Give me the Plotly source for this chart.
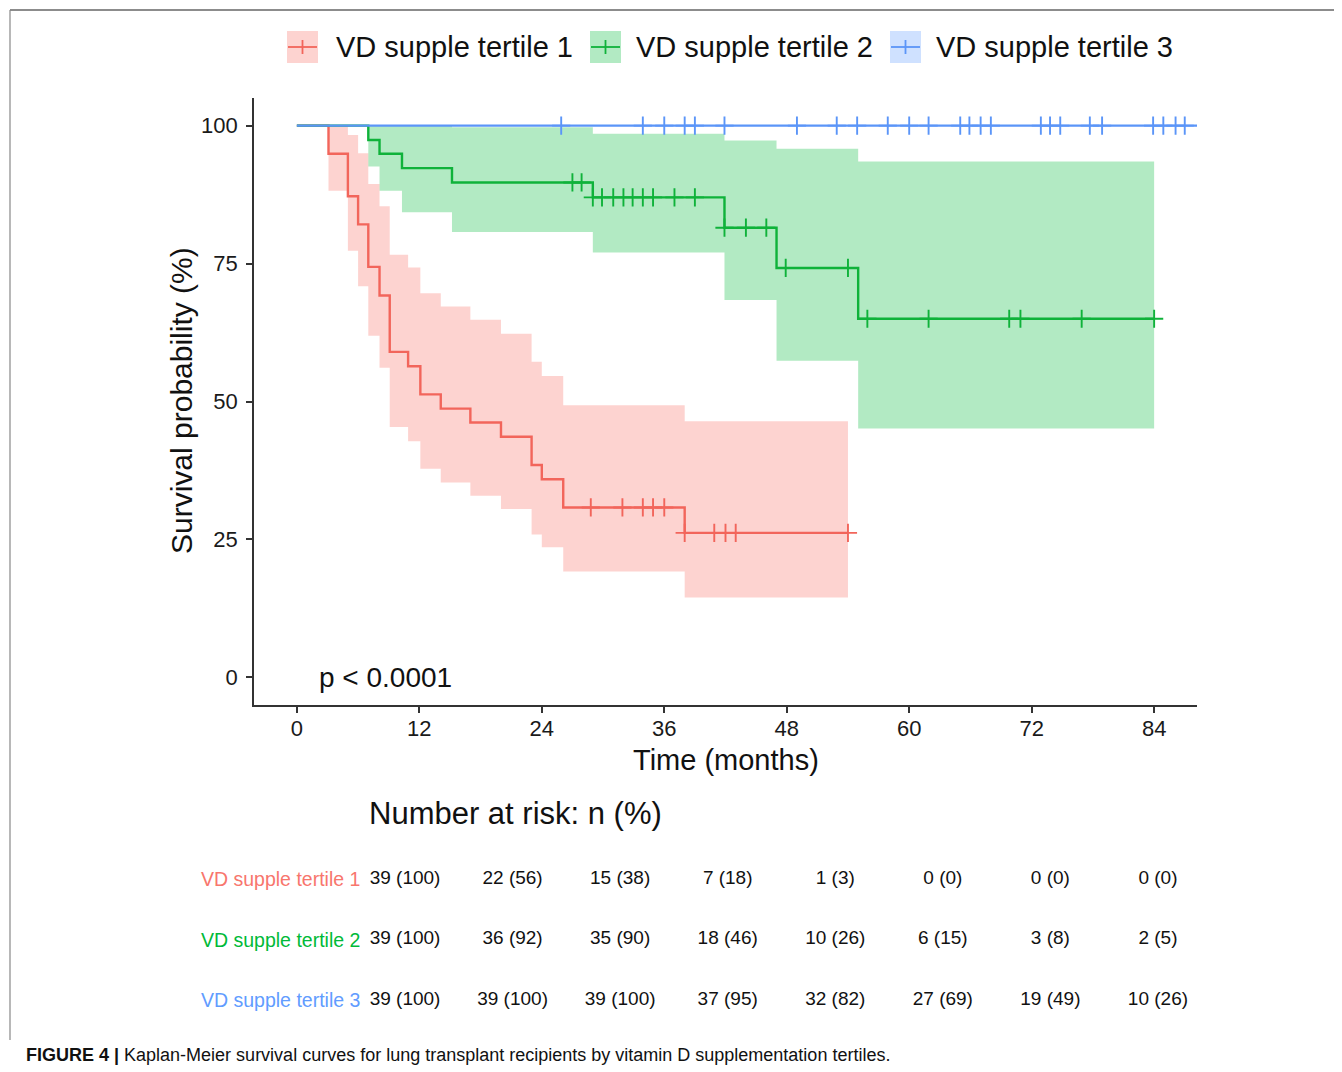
import numpy as np
import plotly.graph_objects as go

# ---------------- data ----------------
groups = ["VD supple tertile 1", "VD supple tertile 2", "VD supple tertile 3"]
colors = ["#F8766D", "#00BA38", "#619CFF"]
line_colors = ["#F2655B", "#0FB23A", "#5B95F8"]
fills = ["rgba(248,118,109,0.32)", "rgba(0,186,56,0.30)", "rgba(97,156,255,0.30)"]

# tertile 1 (months, survival %)
t1_time = [0, 3.1, 5.0, 6.0, 7.0, 8.1, 9.1, 10.9, 12.1, 14.1, 17.0, 20.0, 23.0, 24.0, 26.1, 38.0, 54.0]
t1_surv = [100, 94.9, 87.2, 82.1, 74.4, 69.2, 59.0, 56.4, 51.3, 48.7, 46.2, 43.6, 38.5, 35.9, 30.8, 26.2, 26.2]
t1_ci_time = [3.1, 5.0, 6.0, 7.0, 8.1, 9.1, 10.9, 12.1, 14.1, 17.0, 20.0, 23.0, 24.0, 26.1, 38.0, 54.0]
t1_ci_upper = [100, 98.3, 95.0, 89.4, 85.4, 76.6, 74.3, 69.6, 67.2, 64.8, 62.3, 57.2, 54.6, 49.3, 46.4, 46.4]
t1_ci_lower = [88.2, 77.3, 70.9, 61.9, 56.1, 45.4, 42.8, 37.8, 35.3, 32.9, 30.5, 25.9, 23.6, 19.2, 14.5, 14.5]
t1_censor = [28.8, 31.9, 33.9, 34.9, 36.0, 38.0, 40.9, 42.0, 43.0, 54.0]

# tertile 2
t2_time = [0, 7.0, 8.1, 10.3, 15.2, 29.0, 41.9, 47.0, 55.0, 84.0]
t2_surv = [100, 97.4, 94.9, 92.3, 89.7, 87.0, 81.5, 74.2, 65.0, 65.0]
t2_ci_time = [7.0, 8.1, 10.3, 15.2, 29.0, 41.9, 47.0, 55.0, 84.0]
t2_ci_upper = [100, 100, 100, 99.7, 98.5, 97.3, 95.8, 93.5, 93.5]
t2_ci_lower = [92.6, 88.2, 84.3, 80.7, 77.0, 68.4, 57.4, 45.1, 45.1]
t2_censor = [27.0, 27.9, 29.0, 29.9, 31.0, 32.0, 32.9, 33.9, 34.9, 37.0, 39.0, 41.9,
             44.0, 46.0, 47.9, 54.0, 55.9, 61.9, 69.8, 70.9, 76.9, 84.0]

# tertile 3
t3_time = [0, 89.0]
t3_surv = [100, 100]
t3_censor = [25.9, 33.9, 36.0, 38.0, 39.0, 41.9, 49.0, 52.9, 54.9, 57.9, 60.0, 61.9,
             65.0, 65.9, 67.0, 68.0, 72.9, 73.8, 74.8, 77.7, 78.9, 83.9, 84.9, 86.1, 87.0]

# number at risk table
risk_times = [0, 12, 24, 36, 48, 60, 72, 84]
risk_n = [[39, 22, 15, 7, 1, 0, 0, 0],
          [39, 36, 35, 18, 10, 6, 3, 2],
          [39, 39, 39, 37, 32, 27, 19, 10]]
risk_pct = [[100, 56, 38, 18, 3, 0, 0, 0],
            [100, 92, 90, 46, 26, 15, 8, 5],
            [100, 100, 100, 95, 82, 69, 49, 26]]

x_ticks = [0, 12, 24, 36, 48, 60, 72, 84]
y_ticks = [0, 25, 50, 75, 100]
p_text = "p < 0.0001"

# ---------------- layout helpers ----------------
OFF = 8                       # page body margin of the browser
W, H = 1342 - OFF, 1072 - OFF
FONT = "Liberation Sans, Arial, sans-serif"


def px(x):
    return (x - OFF) / W


def py(y):
    return 1 - (y - OFF) / H


def step_at(times, surv, t):
    i = np.searchsorted(np.asarray(times), t, side="right") - 1
    return surv[i]


fig = go.Figure()

# confidence bands
for ct, lo, up, fc in [(t1_ci_time, t1_ci_lower, t1_ci_upper, fills[0]),
                       (t2_ci_time, t2_ci_lower, t2_ci_upper, fills[1])]:
    fig.add_trace(go.Scatter(x=ct, y=lo, mode="lines", line=dict(width=0, shape="hv"),
                             showlegend=False, hoverinfo="skip"))
    fig.add_trace(go.Scatter(x=ct, y=up, mode="lines", line=dict(width=0, shape="hv"),
                             fill="tonexty", fillcolor=fc, showlegend=False, hoverinfo="skip"))

# survival curves and censor marks
curves = [(t1_time, t1_surv, t1_censor), (t2_time, t2_surv, t2_censor), (t3_time, t3_surv, t3_censor)]
for k, (tt, ss, cc) in enumerate(curves):
    fig.add_trace(go.Scatter(x=tt, y=ss, mode="lines", name=groups[k],
                             line=dict(color=line_colors[k], width=2.4, shape="hv"),
                             showlegend=False))
    fig.add_trace(go.Scatter(x=cc, y=[step_at(tt, ss, c) for c in cc], mode="markers",
                             marker=dict(symbol="cross-thin", size=13,
                                         line=dict(color=line_colors[k], width=1.9)),
                             showlegend=False, hoverinfo="skip"))

# risk table as text on its own axes
for k in range(3):
    fig.add_trace(go.Scatter(
        x=risk_times, y=[3 - k] * len(risk_times), mode="text",
        text=[f"{n} ({p})" for n, p in zip(risk_n[k], risk_pct[k])],
        textfont=dict(family=FONT, size=19, color="#111111"),
        xaxis="x2", yaxis="y2", showlegend=False, hoverinfo="skip"))

axis_common = dict(showgrid=False, zeroline=False, showline=True, linecolor="#333333",
                   linewidth=1.8, ticks="outside", ticklen=6, tickwidth=1.5, tickcolor="#333333",
                   tickfont=dict(family=FONT, size=22, color="#1a1a1a"))

fig.update_layout(
    width=W, height=H, margin=dict(l=0, r=0, t=0, b=0),
    paper_bgcolor="white", plot_bgcolor="white", showlegend=False,
    xaxis=dict(domain=[px(254), px(1197)], range=[-4.2, 88.2], tickvals=x_ticks,
               anchor="y", ticklabelstandoff=-3, **axis_common),
    yaxis=dict(domain=[py(705), py(98)], range=[-5, 105], tickvals=y_ticks,
               anchor="x", ticklabelstandoff=4, **axis_common),
    xaxis2=dict(domain=[px(367.4), px(1195.6)], range=[-4.2, 88.2], visible=False, anchor="y2"),
    yaxis2=dict(domain=[py(1030), py(849)], range=[0.5, 3.5], visible=False, anchor="x2"),
)

ann = []
# axis titles
ann.append(dict(text="Time (months)", x=px(725.5), y=py(760), xref="paper", yref="paper",
                showarrow=False, xanchor="center", yanchor="middle",
                font=dict(family=FONT, size=29, color="#111111")))
ann.append(dict(text="Survival probability (%)", x=px(181), y=py(401), xref="paper", yref="paper",
                showarrow=False, textangle=-90, xanchor="center", yanchor="middle",
                font=dict(family=FONT, size=30, color="#111111")))
# p-value
ann.append(dict(text=p_text, x=2.0, y=0, xref="x", yref="y", showarrow=False,
                xanchor="left", yanchor="middle", font=dict(family=FONT, size=28, color="#111111")))
# risk table title and labels
ann.append(dict(text="Number at risk: n (%)", x=px(367), y=py(813), xref="paper", yref="paper",
                showarrow=False, xanchor="left", yanchor="middle",
                font=dict(family=FONT, size=31, color="#111111")))
for k in range(3):
    ann.append(dict(text=groups[k], x=px(362), y=3 - k, xref="paper", yref="y2",
                    showarrow=False, xanchor="right", yanchor="middle",
                    font=dict(family=FONT, size=19.5, color=colors[k])))
# legend (drawn manually to mimic ggplot keys)
shapes = []
box_x = [287, 590, 890]
text_x = [334, 634, 934]
for k in range(3):
    x0 = box_x[k]
    shapes.append(dict(type="rect", xref="paper", yref="paper", x0=px(x0), x1=px(x0 + 31),
                       y0=py(63), y1=py(31), fillcolor=fills[k], line=dict(width=0)))
    shapes.append(dict(type="line", xref="paper", yref="paper", x0=px(x0 + 1), x1=px(x0 + 30),
                       y0=py(47), y1=py(47), line=dict(color=line_colors[k], width=1.8)))
    shapes.append(dict(type="line", xref="paper", yref="paper", x0=px(x0 + 15.5), x1=px(x0 + 15.5),
                       y0=py(40), y1=py(54), line=dict(color=line_colors[k], width=1.8)))
    ann.append(dict(text=groups[k], x=px(text_x[k]), y=py(47), xref="paper", yref="paper",
                    showarrow=False, xanchor="left", yanchor="middle",
                    font=dict(family=FONT, size=29, color="#111111")))
# page frame
shapes.append(dict(type="line", xref="paper", yref="paper", x0=px(10), x1=1, y0=py(10), y1=py(10),
                   line=dict(color="#666666", width=1.5)))
shapes.append(dict(type="line", xref="paper", yref="paper", x0=px(10), x1=px(10), y0=py(10), y1=py(1040),
                   line=dict(color="#888888", width=1.2)))
# caption
ann.append(dict(text="<b>FIGURE 4 |</b> Kaplan-Meier survival curves for lung transplant recipients by vitamin D supplementation tertiles.",
                x=px(24), y=py(1055), xref="paper", yref="paper", showarrow=False,
                xanchor="left", yanchor="middle", font=dict(family=FONT, size=18, color="#111111")))

fig.update_layout(annotations=ann, shapes=shapes)
fig.write_html("out.html")
